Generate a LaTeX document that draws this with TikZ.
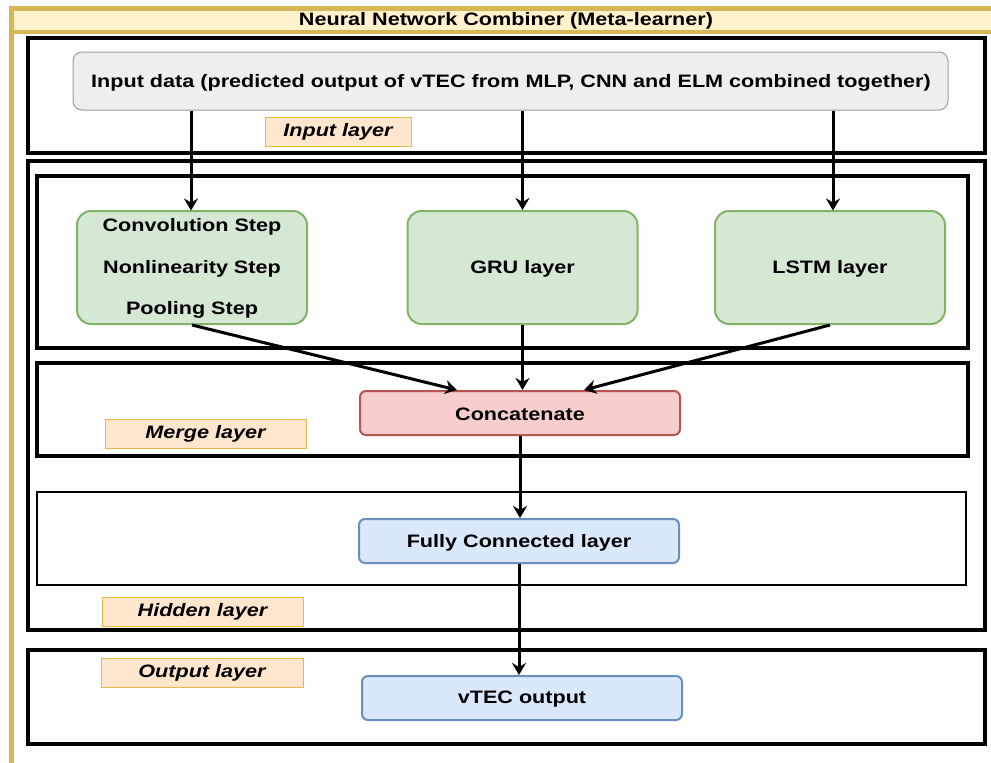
\documentclass[tikz,border=0pt]{standalone}
\usepackage{fontspec}
\setmainfont[FakeStretch=1.2]{Liberation Sans}
\usetikzlibrary{arrows.meta,calc}
\definecolor{goldb}{HTML}{D6B656}
\definecolor{goldf}{HTML}{FFF2CC}
\definecolor{grayf}{HTML}{EEEEEE}
\definecolor{grayb}{HTML}{9E9E9E}
\definecolor{greenf}{HTML}{D5E8D4}
\definecolor{greenb}{HTML}{82B366}
\definecolor{redf}{HTML}{F8CECC}
\definecolor{redb}{HTML}{B85450}
\definecolor{bluef}{HTML}{DAE8FC}
\definecolor{blueb}{HTML}{6C8EBF}
\definecolor{labf}{HTML}{FFE6CC}
\definecolor{labb}{HTML}{E8B84A}
\tikzset{
  txt/.style={font=\fontsize{18}{22}\selectfont\bfseries},
  layerbox/.style={draw=black,line width=3.4pt},
  thinlayer/.style={draw=black,line width=2.2pt},
  greenbox/.style={draw=greenb,fill=greenf,line width=2pt,rounded corners=14pt,minimum width=230pt,minimum height=113pt,txt,align=center,inner sep=0pt},
  flatbox/.style={line width=2pt,rounded corners=6pt,minimum width=320pt,minimum height=44pt,txt,inner sep=0pt},
  lab/.style={draw=labb,fill=labf,line width=1pt,minimum height=29pt,inner sep=0pt,font=\fontsize{18}{22}\selectfont\bfseries\itshape},
  arr/.style={draw=black,line width=3pt,-{Stealth[length=12pt,width=14pt,inset=4pt]}}
}
\begin{document}
\begin{tikzpicture}[x=1pt,y=-1pt]
\useasboundingbox (0,0) rectangle (991,763);
\fill[white] (0,0) rectangle (991,763);
% outer frame
\draw[goldb,line width=4.5pt] (11.5,8.5) rectangle (1000,780);
\draw[goldb,fill=goldf,line width=4.5pt] (11.5,8.5) rectangle (1000,32);
\node[txt] (title) at (506,21) {Neural Network Combiner (Meta-learner)};
% layer boxes
\draw[layerbox] (28,38) rectangle (985,153);
\draw[layerbox] (28,161) rectangle (985,630);
\draw[layerbox] (37,176) rectangle (968,348);
\draw[layerbox] (37,363) rectangle (968,456);
\draw[thinlayer] (37,492) rectangle (966,585);
\draw[layerbox] (28,650) rectangle (985,744);
% input
\node[draw=grayb,fill=grayf,line width=1pt,rounded corners=9pt,minimum width=875pt,minimum height=58pt,inner sep=0pt,txt] (inp) at (510.5,81) {};
\node[txt] (inptext) at (511,82.5) {Input data (predicted output of vTEC from MLP, CNN and ELM combined together)};
\node[lab,minimum width=146pt] (linp) at (338,131.5) {Input layer};
% green boxes
\node[greenbox] (conv) at (192,267.5) {};
\node[txt] (c1) at (192,227) {Convolution Step};
\node[txt] (c2) at (192,268.5) {Nonlinearity Step};
\node[txt] (c3) at (192,310) {Pooling Step};
\node[greenbox] (gru) at (522.5,267.5) {};
\node[txt] (grut) at (522.5,269) {GRU layer};
\node[greenbox] (lstm) at (830,267.5) {};
\node[txt] (lstmt) at (830,269) {LSTM layer};
% merge
\node[flatbox,draw=redb,fill=redf] (cat) at (520,413) {};
\node[txt] (catt) at (520,414.5) {Concatenate};
\node[lab,minimum width=201pt] (lmerge) at (205.5,433.5) {Merge layer};
% hidden
\node[flatbox,draw=blueb,fill=bluef] (fc) at (519,541) {};
\node[txt] (fct) at (519,542.5) {Fully Connected layer};
\node[lab,minimum width=201pt] (lhid) at (202.5,611.5) {Hidden layer};
% output
\node[lab,minimum width=202pt] (lout) at (202,672.5) {Output layer};
\node[flatbox,draw=blueb,fill=bluef] (out) at (522,698) {};
\node[txt] (outt) at (522,699.5) {vTEC output};
% arrows
\draw[arr] (inp.south -| 191,0) -- (191,210.5);
\draw[arr] (inp.south -| gru.north) -- (gru.north);
\draw[arr] (inp.south -| 833,0) -- (833,210.5);
\draw[arr] (conv.south) -- ($(cat.north)+(-63,0)$);
\draw[arr] (gru.south) -- (gru.south |- cat.north);
\draw[arr] (lstm.south) -- ($(cat.north)+(64,0)$);
\draw[arr] (cat.south) -- (cat.south |- fc.north);
\draw[arr] (fc.south) -- (fc.south |- out.north);
\end{tikzpicture}
\end{document}
